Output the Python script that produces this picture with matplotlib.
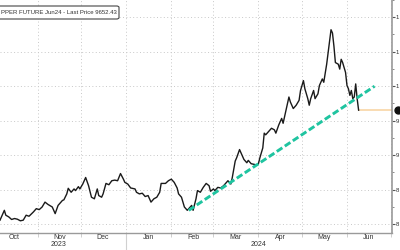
"""
Copper future Jun24 daily price with support trend line (Bloomberg-style crop).
"""
import matplotlib
matplotlib.use("Agg")
import matplotlib.pyplot as plt
import matplotlib.patches as mpatches
import pandas as pd

# --- Data ---
DATES = [
    "2023-10-06", "2023-10-09", "2023-10-10", "2023-10-12", "2023-10-14", "2023-10-16",
    "2023-10-18", "2023-10-20", "2023-10-22", "2023-10-24", "2023-10-26", "2023-10-29",
    "2023-10-31", "2023-11-02", "2023-11-04", "2023-11-06", "2023-11-08", "2023-11-11",
    "2023-11-13", "2023-11-15", "2023-11-18", "2023-11-19", "2023-11-21", "2023-11-22",
    "2023-11-24", "2023-11-26", "2023-11-27", "2023-11-29", "2023-11-30", "2023-12-02",
    "2023-12-04", "2023-12-06", "2023-12-08", "2023-12-10", "2023-12-12", "2023-12-13",
    "2023-12-15", "2023-12-16", "2023-12-18", "2023-12-20", "2023-12-22", "2023-12-24",
    "2023-12-26", "2023-12-28", "2023-12-30", "2023-12-31", "2024-01-02", "2024-01-04",
    "2024-01-07", "2024-01-08", "2024-01-10", "2024-01-12", "2024-01-14", "2024-01-16",
    "2024-01-18", "2024-01-20", "2024-01-22", "2024-01-24", "2024-01-25", "2024-01-28",
    "2024-01-30", "2024-02-01", "2024-02-03", "2024-02-05", "2024-02-06", "2024-02-08",
    "2024-02-10", "2024-02-12", "2024-02-13", "2024-02-15", "2024-02-16", "2024-02-18",
    "2024-02-19", "2024-02-21", "2024-02-23", "2024-02-25", "2024-02-27", "2024-02-28",
    "2024-03-01", "2024-03-02", "2024-03-04", "2024-03-06", "2024-03-08", "2024-03-10",
    "2024-03-11", "2024-03-13", "2024-03-14", "2024-03-16", "2024-03-17", "2024-03-19",
    "2024-03-21", "2024-03-22", "2024-03-24", "2024-03-25", "2024-03-27", "2024-03-29",
    "2024-03-31", "2024-04-01", "2024-04-02", "2024-04-04", "2024-04-05", "2024-04-06",
    "2024-04-08", "2024-04-10", "2024-04-12", "2024-04-13", "2024-04-15", "2024-04-17",
    "2024-04-18", "2024-04-20", "2024-04-22", "2024-04-23", "2024-04-25", "2024-04-27",
    "2024-04-29", "2024-04-30", "2024-05-02", "2024-05-03", "2024-05-05", "2024-05-06",
    "2024-05-07", "2024-05-09", "2024-05-10", "2024-05-12", "2024-05-13", "2024-05-15",
    "2024-05-16", "2024-05-18", "2024-05-19", "2024-05-21", "2024-05-22", "2024-05-23",
    "2024-05-24", "2024-05-26", "2024-05-27", "2024-05-28", "2024-05-29", "2024-05-31",
    "2024-06-01", "2024-06-02", "2024-06-03", "2024-06-04", "2024-06-05", "2024-06-06",
    "2024-06-07", "2024-06-08", "2024-06-09",
]
PRICES = [
    8057, 8200, 8129, 8105, 8067, 8081, 8071, 8048, 8057, 8129, 8114, 8176,
    8224, 8210, 8248, 8319, 8286, 8248, 8152, 8271, 8343, 8352, 8438, 8519,
    8462, 8510, 8486, 8543, 8510, 8581, 8676, 8557, 8390, 8367, 8510, 8414,
    8390, 8438, 8590, 8571, 8629, 8638, 8629, 8733, 8652, 8605, 8581, 8524,
    8510, 8462, 8438, 8448, 8400, 8414, 8319, 8367, 8390, 8462, 8590, 8590,
    8629, 8652, 8605, 8524, 8438, 8390, 8248, 8200, 8224, 8271, 8200, 8367,
    8486, 8462, 8533, 8590, 8557, 8476, 8510, 8486, 8533, 8524, 8557, 8605,
    8629, 8581, 8676, 8914, 8962, 9081, 8986, 8938, 8890, 8924, 8876, 8867,
    8857, 8876, 8962, 9105, 9319, 9295, 9343, 9390, 9367, 9319, 9438, 9533,
    9462, 9652, 9843, 9771, 9676, 9724, 9795, 9938, 10081, 9962, 9819, 9724,
    9819, 9938, 9819, 9890, 10010, 10105, 10057, 10319, 10486, 10819, 10771, 10581,
    10343, 10319, 10248, 10390, 10343, 10200, 10010, 9962, 9867, 9938, 9819, 9843,
    10033, 9819, 9652.43,
]
LAST_PRICE = 9652.43

TREND_DATES = ["2024-02-13", "2024-06-20"]
TREND_VALUES = [8200, 10000]

Y_TICKS = [8000, 8500, 9000, 9500, 10000, 10500, 11000]
# only the first digit of each right-hand label is inside the crop
Y_TICK_LABELS = ["8", "8", "9", "9", "1", "1", "1"]
MONTH_STARTS = ["2023-11-01", "2023-12-01", "2024-01-01", "2024-02-01", "2024-03-01",
                "2024-04-01", "2024-05-01", "2024-06-01", "2024-07-01"]
MONTH_LABEL_DATES = ["2023-10-16", "2023-11-16", "2023-12-16", "2024-01-16", "2024-02-16",
                     "2024-03-16", "2024-04-16", "2024-05-16", "2024-06-16"]
MONTH_LABELS = ["Oct", "Nov", "Dec", "Jan", "Feb", "Mar", "Apr", "May", "Jun"]
YEAR_LABEL_DATES = ["2023-11-15", "2024-04-01"]
YEAR_LABELS = ["2023", "2024"]
LEGEND_TEXT = "PPER FUTURE Jun24 - Last Price 9652.43"

# --- Style ---
LINE_COLOR = "#1a1a1a"
TREND_COLOR = "#1fc4a0"
LAST_COLOR = "#f8d6a6"
GRID_COLOR = "#c8c8c8"
SPINE_COLOR = "#9a9a9a"
TEXT_COLOR = "#333333"

plt.rcParams["font.family"] = ["Liberation Sans", "DejaVu Sans"]

dates = pd.to_datetime(DATES)
fig = plt.figure(figsize=(4, 2.5), dpi=100)
ax = fig.add_axes([0.0, 0.068, 0.98, 0.932])

# Main price line
ax.plot(dates, PRICES, color=LINE_COLOR, linewidth=1.0, zorder=3)

# Last price extension to the right edge
x_right = pd.Timestamp("2024-07-02")
ax.plot([dates[-1], x_right], [LAST_PRICE, LAST_PRICE], color=LAST_COLOR,
        linewidth=1.2, zorder=2)
# price tag bubble sitting on the right axis
ax.plot([pd.Timestamp("2024-07-06")], [LAST_PRICE], "o", color="#111111",
        markersize=5, clip_on=False, zorder=5)

# Support trend line
ax.plot(pd.to_datetime(TREND_DATES), TREND_VALUES, color=TREND_COLOR,
        linewidth=2.1, dashes=(2.3, 1.0), zorder=4)

ax.set_xlim(pd.Timestamp("2023-10-06"), x_right)
ax.set_ylim(7871, 11210)

# Grid at month starts and 500 steps
ax.set_xticks(pd.to_datetime(MONTH_STARTS))
ax.set_xticklabels([])
ax.set_yticks(Y_TICKS)
ax.set_yticks([v + 250 for v in Y_TICKS], minor=True)
ax.grid(True, which="major", color=GRID_COLOR, linestyle=(0, (1, 2.5)), linewidth=0.7)

ax.yaxis.tick_right()
ax.set_yticklabels(Y_TICK_LABELS)
ax.tick_params(axis="y", which="major", length=2, width=0.8, color="#555555",
               labelsize=4.3, labelcolor=TEXT_COLOR, pad=0.6)
ax.tick_params(axis="y", which="minor", length=1.2, width=0.6, color="#777777")
ax.tick_params(axis="x", length=3, width=0.6, color=GRID_COLOR)

for side in ("left", "top"):
    ax.spines[side].set_visible(False)
ax.spines["right"].set_color(SPINE_COLOR)
ax.spines["right"].set_linewidth(1.2)
ax.spines["bottom"].set_color(SPINE_COLOR)
ax.spines["bottom"].set_linewidth(1.0)

# Month and year labels below the axis
ax_h = 0.932 * 250
to_ax = ax.get_xaxis_transform()
for d, lab in zip(pd.to_datetime(MONTH_LABEL_DATES), MONTH_LABELS):
    ax.text(d, -4.8 / ax_h, lab, transform=to_ax, ha="center", va="center",
            fontsize=5, color=TEXT_COLOR, clip_on=False)
for d, lab in zip(pd.to_datetime(YEAR_LABEL_DATES), YEAR_LABELS):
    ax.text(d, -11.6 / ax_h, lab, transform=to_ax, ha="center", va="center",
            fontsize=5, color=TEXT_COLOR, clip_on=False)
ax.plot([pd.Timestamp("2024-01-01")] * 2, [0.0, -17 / ax_h], transform=to_ax,
        color="#d0d0d0", linewidth=0.8, clip_on=False)

# Legend box in the top-left corner
box = mpatches.FancyBboxPatch((-10 / 400, 1 - 19 / 250), 129 / 400, 13 / 250,
                              boxstyle="round,pad=0,rounding_size=0.006",
                              transform=fig.transFigure, facecolor="white",
                              edgecolor="#444444", linewidth=0.8, zorder=6)
fig.patches.append(box)
fig.text(1 / 400, 1 - 12.8 / 250, LEGEND_TEXT, ha="left", va="center",
         fontsize=4.3, color=TEXT_COLOR, zorder=7)

fig.savefig("out.png", dpi=100, facecolor="white")
plt.close(fig)
